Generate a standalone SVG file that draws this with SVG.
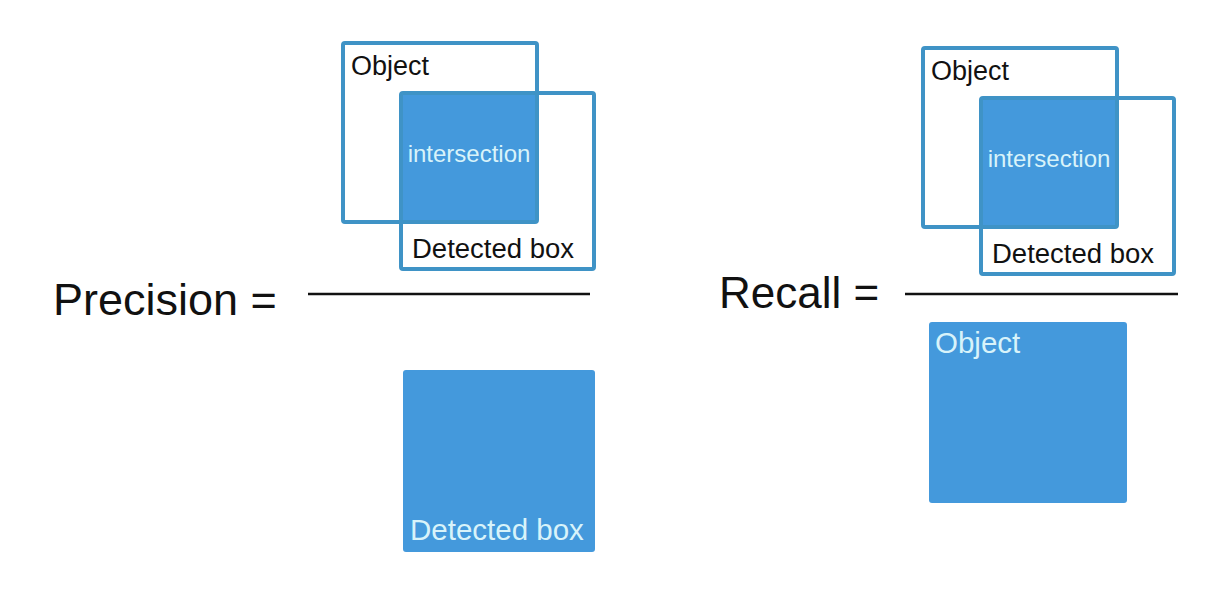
<svg xmlns="http://www.w3.org/2000/svg" width="1232" height="598" viewBox="0 0 1232 598">
<style>
.frame{fill:none;stroke:#3f93c6;stroke-width:4;}
.fill{fill:#4499dc;}
.dark{font-family:"Liberation Sans",Arial,sans-serif;fill:#111;}
.light{font-family:"Liberation Sans",Arial,sans-serif;fill:#d8f3fa;}
.bar{stroke:#111;stroke-width:2.5;}
</style>
<rect width="1232" height="598" fill="#fff"/>
<g id="precision-label"><text class="dark" x="53" y="315" font-size="45">Precision =</text></g>
<g id="precision-numerator">
<rect class="fill" x="400" y="92" width="137" height="130"/>
<rect class="frame" x="343" y="43" width="194" height="179" rx="2"/>
<rect class="frame" x="401" y="93" width="193" height="176" rx="2"/>
<text class="dark" x="351" y="75" font-size="27">Object</text>
<text class="light" x="469" y="162" font-size="24" text-anchor="middle">intersection</text>
<text class="dark" x="412" y="258" font-size="27.5">Detected box</text>
</g>
<g id="precision-denominator">
<rect class="fill" x="403" y="370" width="192" height="182" rx="3"/>
<text class="light" x="410" y="540" font-size="29.5">Detected box</text>
</g>
<g id="recall-label"><text class="dark" x="719" y="308" font-size="44">Recall =</text></g>
<g id="recall-numerator">
<rect class="fill" x="980" y="97" width="137" height="130"/>
<rect class="frame" x="923" y="48" width="194" height="179" rx="2"/>
<rect class="frame" x="981" y="98" width="193" height="176" rx="2"/>
<text class="dark" x="931" y="80" font-size="27">Object</text>
<text class="light" x="1049" y="167" font-size="24" text-anchor="middle">intersection</text>
<text class="dark" x="992" y="263" font-size="27.5">Detected box</text>
</g>
<g id="recall-denominator">
<rect class="fill" x="929" y="322" width="198" height="181" rx="3"/>
<text class="light" x="935" y="353" font-size="29.5">Object</text>
</g>
<g id="connectors">
<line class="bar" x1="308" y1="294" x2="590" y2="294"/>
<line class="bar" x1="905" y1="294" x2="1178" y2="294"/>
</g>
</svg>
